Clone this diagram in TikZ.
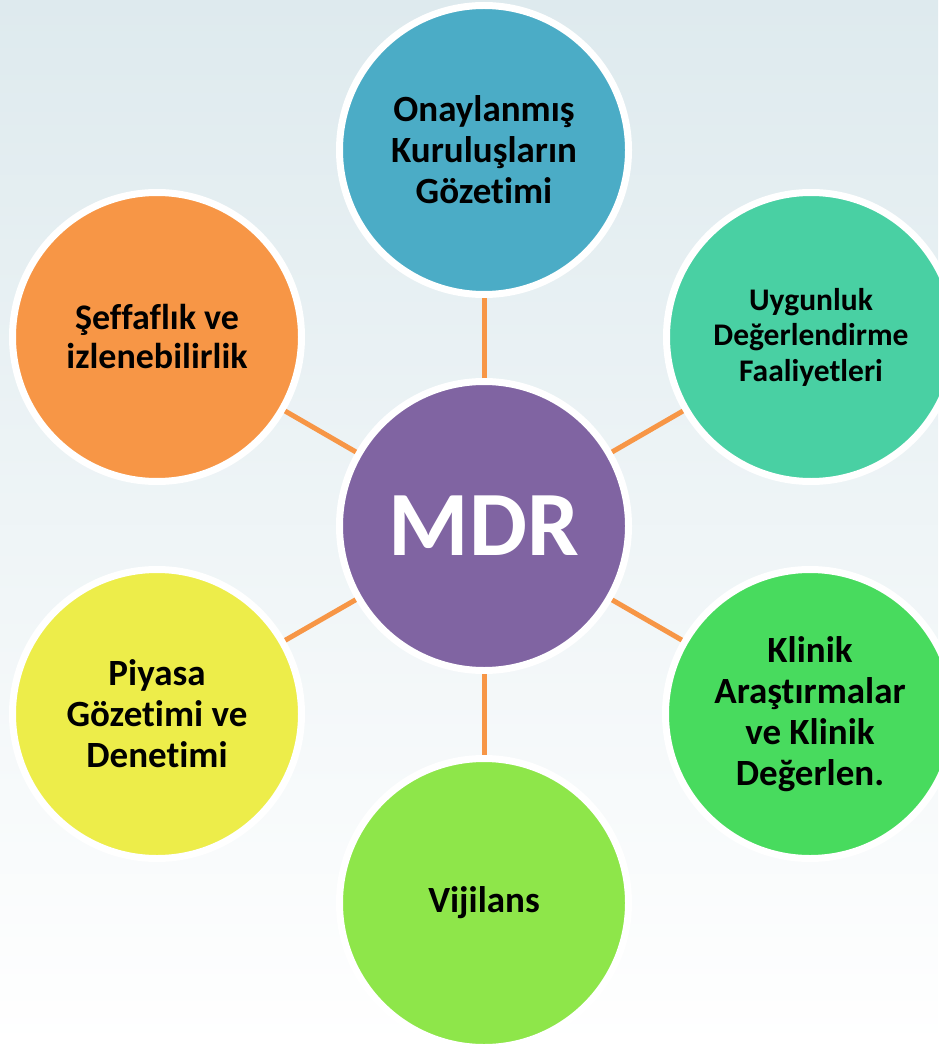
\documentclass[tikz,border=0pt]{standalone}
\usepackage{fontspec}
\setmainfont{Carlito}[Ligatures=NoCommon]
\definecolor{bgtop}{RGB}{222,234,238}
\definecolor{bgmid}{RGB}{243,247,250}
\definecolor{cteal}{HTML}{4BACC6}
\definecolor{cpurple}{HTML}{8064A2}
\definecolor{cmint}{HTML}{49D0A3}
\definecolor{cgreen}{HTML}{48DB5E}
\definecolor{clime}{HTML}{8EE64A}
\definecolor{cyellow}{HTML}{EDED4A}
\definecolor{corange}{HTML}{F79646}
\tikzset{
  bubble/.style={circle, draw=white, line width=7pt, minimum size=289pt, inner sep=0pt,
    align=center, text=black, font=\bfseries\fontsize{37}{41}\selectfont},
  link/.style={draw=corange, line width=5pt}
}
\begin{document}
\begin{tikzpicture}[x=1pt,y=-1pt]
\useasboundingbox (0,0) rectangle (938,1048);
\shade[top color=bgtop, middle color=bgmid, bottom color=white] (0,0) rectangle (938,1048);
\node[bubble, fill=cpurple, text=white, font=\bfseries\fontsize{92}{100}\selectfont] (mdr) at (484,526) {MDR};
\node[bubble, fill=cteal] (top) at (484,150) {Onaylanmış\\Kuruluşların\\Gözetimi};
\node[bubble, fill=cmint, font=\bfseries\fontsize{31.5}{35.5}\selectfont] (rt) at (811,337) {Uygunluk\\Değerlendirme\\Faaliyetleri};
\node[bubble, fill=cgreen] (rb) at (810,714) {Klinik\\Araştırmalar\\ve Klinik\\Değerlen.};
\node[bubble, fill=clime] (bot) at (484,903) {Vijilans};
\node[bubble, fill=cyellow] (lb) at (157,714) {Piyasa\\Gözetimi ve\\Denetimi};
\node[bubble, fill=corange, font=\bfseries\fontsize{36}{39}\selectfont] (lt) at (157,337) {Şeffaflık ve\\izlenebilirlik};
\draw[link] (mdr) -- (top);
\draw[link] (mdr) -- (rt);
\draw[link] (mdr) -- (rb);
\draw[link] (mdr) -- (bot);
\draw[link] (mdr) -- (lb);
\draw[link] (mdr) -- (lt);
\end{tikzpicture}
\end{document}
